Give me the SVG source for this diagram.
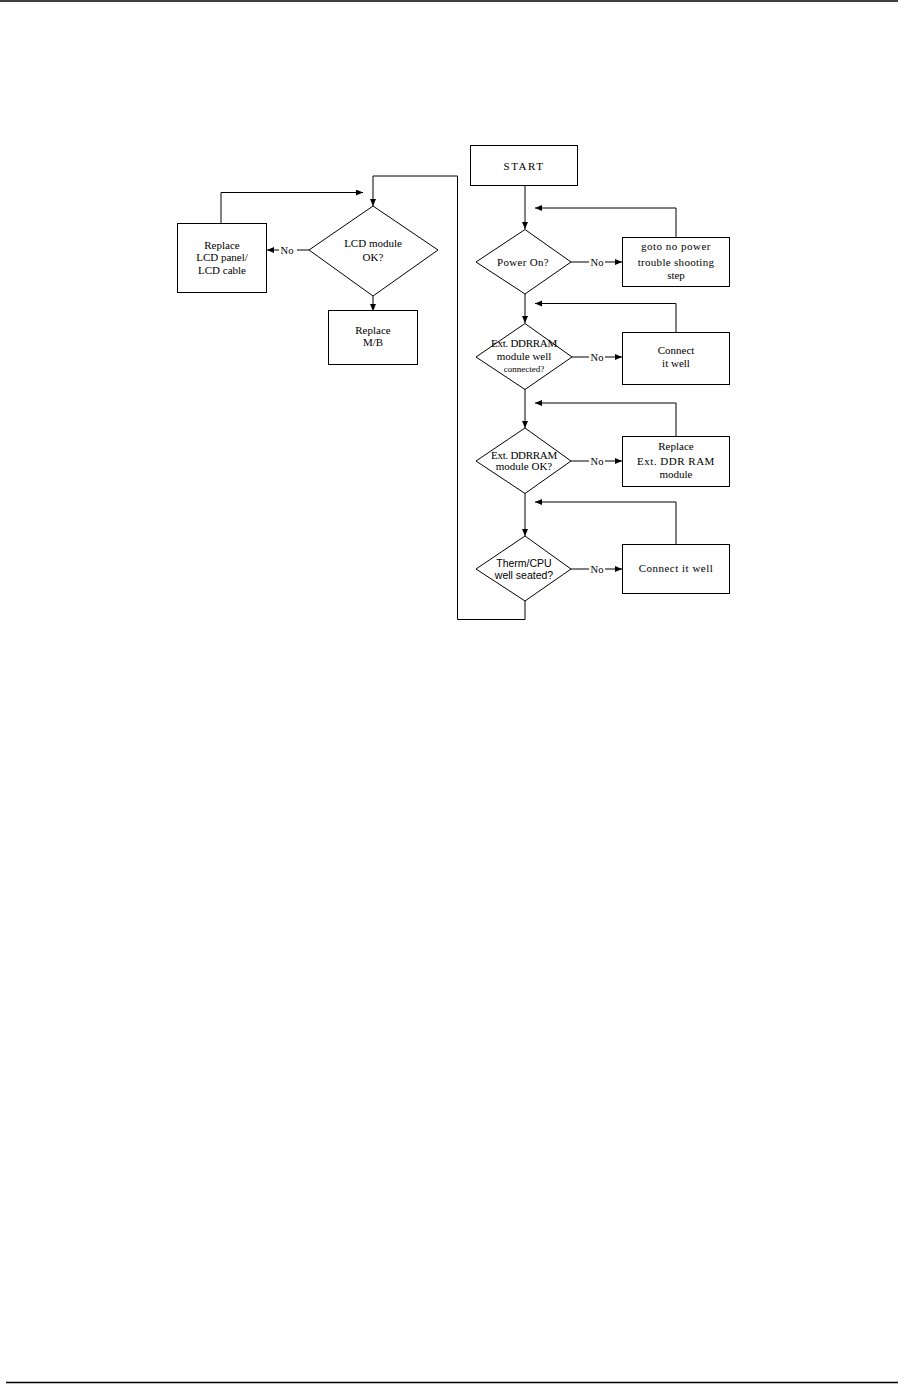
<svg xmlns="http://www.w3.org/2000/svg" width="912" height="1387" viewBox="0 0 912 1387">
<style>
.box{fill:#fff;stroke:#000;stroke-width:1}
.dia{fill:#fff;stroke:#000;stroke-width:1}
.ln{fill:none;stroke:#000;stroke-width:1}
text{font-family:"Liberation Serif","Times New Roman",serif;font-size:11px;fill:#000;text-anchor:middle}
.sm{font-size:9px}
.sans{font-family:"Liberation Sans",Arial,sans-serif;font-size:10.5px}
.no{font-size:10.5px}
</style>
<defs>
<marker id="ah" markerUnits="userSpaceOnUse" markerWidth="8" markerHeight="7" refX="7" refY="3" orient="auto">
<path d="M0,0 L7,3 L0,6 z" fill="#000"/>
</marker>
</defs>
<rect width="912" height="1387" fill="#fff"/>
<line x1="0" y1="1" x2="898" y2="1" stroke="#000" stroke-width="1.5"/>
<line x1="6" y1="1382.5" x2="898" y2="1382.5" stroke="#000" stroke-width="1.5"/>

<g id="connectors">
<path class="ln" d="M525,186 V229" marker-end="url(#ah)"/>
<path class="ln" d="M676,237 V208 H535" marker-end="url(#ah)"/>
<path class="ln" d="M525,294 V323" marker-end="url(#ah)"/>
<path class="ln" d="M571,262 H589"/>
<path class="ln" d="M605,262 H622" marker-end="url(#ah)"/>
<text class="no" x="597" y="265.5">No</text>
<path class="ln" d="M676,333 V303.5 H535" marker-end="url(#ah)"/>
<path class="ln" d="M525,389 V428" marker-end="url(#ah)"/>
<path class="ln" d="M572,357 H589"/>
<path class="ln" d="M605,357 H622" marker-end="url(#ah)"/>
<text class="no" x="597" y="360.5">No</text>
<path class="ln" d="M676,437 V403 H535" marker-end="url(#ah)"/>
<path class="ln" d="M571,461 H589"/>
<path class="ln" d="M605,461 H622" marker-end="url(#ah)"/>
<text class="no" x="597" y="464.5">No</text>
<path class="ln" d="M525,493 V536" marker-end="url(#ah)"/>
<path class="ln" d="M676,544 V502 H535" marker-end="url(#ah)"/>
<path class="ln" d="M571,569 H589"/>
<path class="ln" d="M605,569 H622" marker-end="url(#ah)"/>
<text class="no" x="597" y="572.5">No</text>
<path class="ln" d="M525,601 V619.5 H457.5 V176 H373 V206" marker-end="url(#ah)"/>
<path class="ln" d="M309,250 H297"/>
<path class="ln" d="M279,250 H267" marker-end="url(#ah)"/>
<text class="no" x="287" y="253.5">No</text>
<path class="ln" d="M221,223 V192.5 H363" marker-end="url(#ah)"/>
<path class="ln" d="M373,296 V311" marker-end="url(#ah)"/>
</g>

<g id="start">
<rect class="box" x="470.5" y="145.5" width="107" height="40"/>
<text x="524" y="169.5" letter-spacing="1.5">START</text>
</g>
<g id="power-on">
<polygon class="dia" points="525,229.5 571,262 525,294 476,262"/>
<text x="523" y="265.5" letter-spacing="0.3">Power On?</text>
</g>
<g id="goto-no-power">
<rect class="box" x="622.5" y="237.5" width="107" height="49"/>
<text x="676" y="250" letter-spacing="0.5">goto no power</text>
<text x="676" y="265.5" letter-spacing="0.3">trouble shooting</text>
<text x="676" y="279">step</text>
</g>
<g id="ddr-connected">
<polygon class="dia" points="525,323.5 572,357 525,389.5 476,357"/>
<text x="524" y="347" letter-spacing="-0.3">Ext. DDRRAM</text>
<text x="524" y="360">module well</text>
<text class="sm" x="524" y="371.5">connected?</text>
</g>
<g id="connect-well-1">
<rect class="box" x="622.5" y="332.5" width="107" height="52"/>
<text x="676" y="353.5">Connect</text>
<text x="676" y="367">it well</text>
</g>
<g id="ddr-ok">
<polygon class="dia" points="525,428 571,461 525,493.5 476,461"/>
<text x="524" y="458.5" letter-spacing="-0.3">Ext. DDRRAM</text>
<text x="524" y="469.5">module OK?</text>
</g>
<g id="replace-ddr">
<rect class="box" x="622.5" y="436.5" width="107" height="50"/>
<text x="676" y="450">Replace</text>
<text x="676" y="464.5" letter-spacing="0.5">Ext. DDR RAM</text>
<text x="676" y="478">module</text>
</g>
<g id="therm-cpu">
<polygon class="dia" points="525,536 571,569 525,601 476,569"/>
<text class="sans" x="524" y="567">Therm/CPU</text>
<text class="sans" x="524" y="578.5">well seated?</text>
</g>
<g id="connect-well-2">
<rect class="box" x="622.5" y="544.5" width="107" height="49"/>
<text x="676" y="572" letter-spacing="0.5">Connect it well</text>
</g>
<g id="lcd-ok">
<polygon class="dia" points="373,206 438,250 373,296 309,250"/>
<text x="373" y="247" font-size="11.5">LCD module</text>
<text x="373" y="260.5" font-size="11.5">OK?</text>
</g>
<g id="replace-lcd">
<rect class="box" x="177.5" y="223.5" width="89" height="69"/>
<text x="222" y="248.5">Replace</text>
<text x="222" y="261">LCD panel/</text>
<text x="222" y="273.5">LCD cable</text>
</g>
<g id="replace-mb">
<rect class="box" x="328.5" y="310.5" width="89" height="54"/>
<text x="373" y="333.5">Replace</text>
<text x="373" y="346">M/B</text>
</g>
</svg>
